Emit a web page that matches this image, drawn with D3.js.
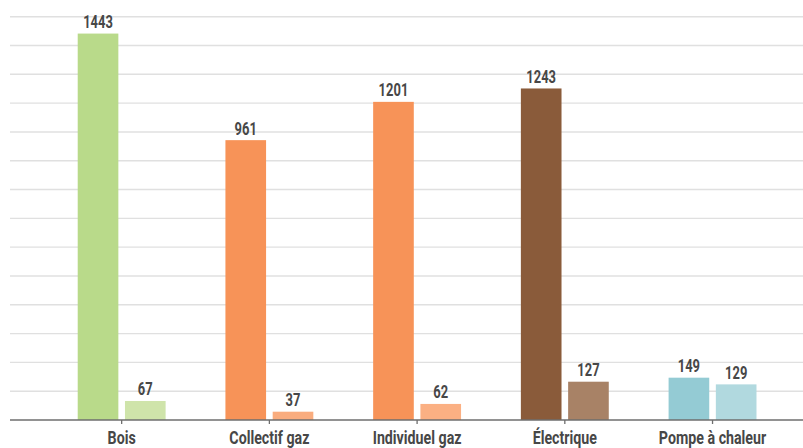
<!DOCTYPE html>
<html><head><meta charset="utf-8">
<script src="https://cdn.jsdelivr.net/npm/d3@7"></script>
<style>
html,body{margin:0;padding:0;background:#fff;}
svg{display:block;}
text{font-family:Roboto,"DejaVu Sans Condensed",sans-serif;font-weight:bold;fill:#474747;}
</style></head>
<body><svg id="c" width="803" height="448"></svg>
<script>
// Data
const categories = ["Bois", "Collectif gaz", "Individuel gaz", "Électrique", "Pompe à chaleur"];
const primaryLabels = [1443, 961, 1201, 1243, 149];
const secondaryLabels = [67, 37, 62, 127, 129];
// bar heights as drawn in the picture
const primaryBars = [1443, 1045, 1188, 1238, 158];
const secondaryBars = [71, 31, 60, 143, 133];
const primaryColors = ["#b9da8a", "#f79358", "#f79358", "#8a5b3a", "#94cbd4"];
const secondaryColors = ["#cfe4aa", "#f9ac7e", "#fbb083", "#a88266", "#b1d9df"];
const yMax = 1506;
const gridCount = 14;

const svg = d3.select("#c");
const W = 803, baseY = 420, topY = 16.7;

const x0 = d3.scaleBand().domain(categories).range([47.8, 786.4]).padding(0);
const x1 = d3.scaleBand().domain([0, 1]).range([-43.95, 43.95]).paddingInner(0.14);
const y = d3.scaleLinear().domain([0, yMax]).range([baseY, topY]);

// gridlines
const gridVals = d3.range(1, gridCount + 1).map(i => i * yMax / gridCount);
svg.append("g").selectAll("line").data(gridVals).join("line")
  .attr("x1", 10).attr("x2", W)
  .attr("y1", d => y(d)).attr("y2", d => y(d))
  .attr("stroke", "#e0e0e0").attr("stroke-width", 1.4);

const rows = categories.map((c, i) => ({
  c,
  bars: [
    {k: 0, v: primaryBars[i], l: primaryLabels[i], col: primaryColors[i]},
    {k: 1, v: secondaryBars[i], l: secondaryLabels[i], col: secondaryColors[i]}
  ]
}));

const g = svg.append("g").selectAll("g").data(rows).join("g")
  .attr("transform", d => `translate(${x0(d.c) + x0.bandwidth() / 2},0)`);

g.selectAll("rect").data(d => d.bars).join("rect")
  .attr("x", d => x1(d.k)).attr("width", x1.bandwidth())
  .attr("y", d => y(d.v)).attr("height", d => baseY - y(d.v))
  .attr("fill", d => d.col);

g.selectAll("text.v").data(d => d.bars).join("text")
  .attr("class", "v")
  .attr("transform", d => `translate(${x1(d.k) + x1.bandwidth() / 2},${y(d.v) - 5.5}) scale(0.7,1)`)
  .attr("text-anchor", "middle")
  .attr("font-size", 18.5)
  .text(d => d.l);

// x axis
const ax = svg.append("g").attr("transform", `translate(0,${baseY})`);
ax.append("line").attr("x1", 10).attr("x2", W).attr("y1", 0).attr("y2", 0)
  .attr("stroke", "#6e6e6e").attr("stroke-width", 1.5);
ax.selectAll("line.t").data(categories).join("line").attr("class", "t")
  .attr("x1", d => x0(d) + x0.bandwidth() / 2).attr("x2", d => x0(d) + x0.bandwidth() / 2)
  .attr("y1", 0).attr("y2", 4).attr("stroke", "#6e6e6e").attr("stroke-width", 1.3);
ax.selectAll("text").data(categories).join("text")
  .attr("transform", d => `translate(${x0(d) + x0.bandwidth() / 2},23.5) scale(0.79,1)`)
  .attr("text-anchor", "middle")
  .attr("font-size", 18)
  .text(d => d);
</script></body></html>
